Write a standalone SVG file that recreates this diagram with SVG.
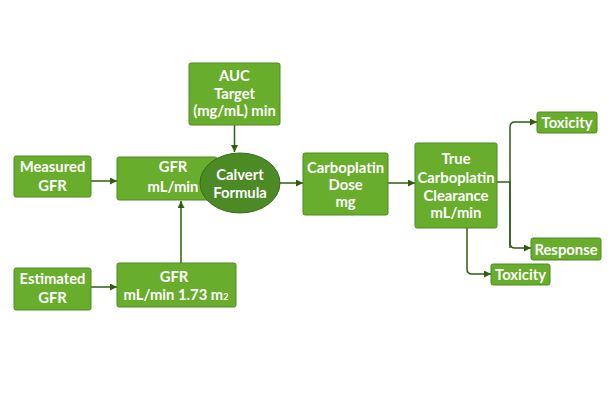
<svg xmlns="http://www.w3.org/2000/svg" width="612" height="408" viewBox="0 0 612 408">
<defs>
<style>
.box{fill:#68ad2c;stroke:#4f8a22;stroke-width:1}
.ell{fill:#4c8a25;stroke:#386b18;stroke-width:1}
.t{font-family:Lato,"Liberation Sans",sans-serif;font-weight:bold;font-size:14.8px;fill:#ffffff;text-anchor:middle}
.c{fill:none;stroke:#2f5e12;stroke-width:1.5}
</style>
<marker id="ah" viewBox="0 0 10 10" refX="10" refY="5" markerWidth="7" markerHeight="7" markerUnits="userSpaceOnUse" orient="auto">
<path d="M0,0 L10,5 L0,10 z" fill="#2f5e12"/>
</marker>
</defs>
<rect width="612" height="408" fill="#ffffff"/>
<g id="connectors">
<path class="c" d="M234.5,125 V152" marker-end="url(#ah)"/>
<path class="c" d="M91,181 H117" marker-end="url(#ah)"/>
<path class="c" d="M91,287 H117" marker-end="url(#ah)"/>
<path class="c" d="M181,263 V201" marker-end="url(#ah)"/>
<path class="c" d="M280,183 H303" marker-end="url(#ah)"/>
<path class="c" d="M388,183 H415" marker-end="url(#ah)"/>
<path class="c" d="M497,182 H510 M510,248 V127 Q510,122 515,122 H537" marker-end="url(#ah)"/>
<path class="c" d="M510,182 V243 Q510,248 515,248 H531" marker-end="url(#ah)"/>
<path class="c" d="M467,228 V269 Q467,274 472,274 H491" marker-end="url(#ah)"/>
</g>
<g id="auc">
<rect class="box" x="189" y="63" width="91" height="62" rx="2"/>
<text class="t" x="234.5" y="81">AUC</text>
<text class="t" x="234.5" y="98.5">Target</text>
<text class="t" x="234.5" y="116">(mg/mL) min</text>
</g>
<g id="measured">
<rect class="box" x="14" y="156" width="77" height="41" rx="2"/>
<text class="t" x="52.5" y="172">Measured</text>
<text class="t" x="52.5" y="191">GFR</text>
</g>
<g id="gfr">
<rect class="box" x="117" y="157" width="100" height="43" rx="2"/>
<text class="t" x="173" y="172">GFR</text>
<text class="t" x="173" y="192">mL/min</text>
</g>
<g id="calvert">
<ellipse class="ell" cx="240" cy="183" rx="40" ry="30"/>
<text class="t" x="240" y="180">Calvert</text>
<text class="t" x="240" y="198">Formula</text>
</g>
<g id="estimated">
<rect class="box" x="14" y="268" width="77" height="42" rx="2"/>
<text class="t" x="52.5" y="284">Estimated</text>
<text class="t" x="52.5" y="303">GFR</text>
</g>
<g id="gfr173">
<rect class="box" x="117" y="263" width="119" height="44" rx="2"/>
<text class="t" x="174" y="282">GFR</text>
<text class="t" x="176" y="300">mL/min 1.73 m<tspan font-size="9">2</tspan></text>
</g>
<g id="dose">
<rect class="box" x="303" y="153" width="85" height="62" rx="2"/>
<text class="t" x="345.5" y="173">Carboplatin</text>
<text class="t" x="345.5" y="190">Dose</text>
<text class="t" x="345.5" y="207">mg</text>
</g>
<g id="clearance">
<rect class="box" x="415" y="143" width="82" height="85" rx="2"/>
<text class="t" x="456" y="164">True</text>
<text class="t" x="456" y="183">Carboplatin</text>
<text class="t" x="456" y="201">Clearance</text>
<text class="t" x="456" y="218">mL/min</text>
</g>
<g id="toxicity1">
<rect class="box" x="537" y="112" width="60" height="21" rx="2"/>
<text class="t" x="567" y="127.5">Toxicity</text>
</g>
<g id="response">
<rect class="box" x="531" y="238" width="70" height="22" rx="2"/>
<text class="t" x="566" y="254.5">Response</text>
</g>
<g id="toxicity2">
<rect class="box" x="491" y="264" width="59" height="21" rx="2"/>
<text class="t" x="520.5" y="279.5">Toxicity</text>
</g>
</svg>
